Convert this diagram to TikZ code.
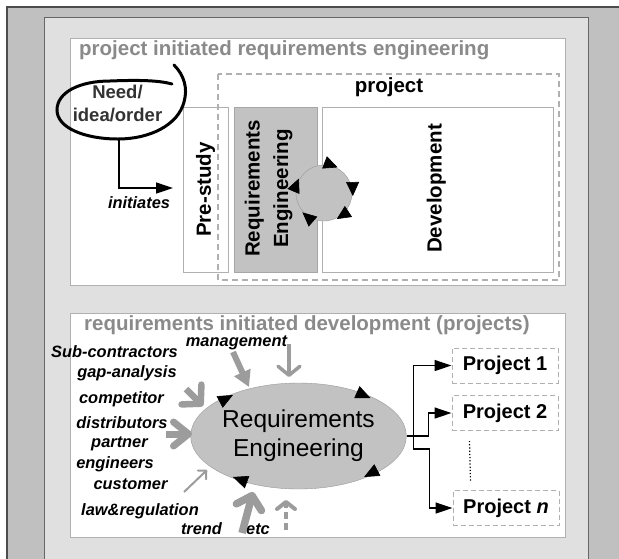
\documentclass[tikz,border=0pt]{standalone}
\usepackage{fontspec}
\setmainfont{Liberation Sans}
\usetikzlibrary{arrows.meta,calc,positioning,shapes.geometric}

\definecolor{framegray}{HTML}{C0C0C0}
\definecolor{panelgray}{HTML}{E0E0E0}
\definecolor{linegray}{HTML}{B0B0B0}
\definecolor{titlegray}{HTML}{8A8A8A}
\definecolor{regray}{HTML}{C2C2C2}
\definecolor{ingray}{HTML}{9C9C9C}

\newcommand{\headfont}{\fontsize{20.5}{24}\selectfont\bfseries}
\newcommand{\srcfont}{\fontsize{16.4}{18}\selectfont\bfseries\itshape}

\begin{document}
\begin{tikzpicture}[x=1pt,y=-1pt,
  box/.style={draw=linegray, line width=1pt},
  stage/.style={box, inner sep=0pt, minimum height=165},
  stagetext/.style={rotate=90, font=\headfont, align=center, inner sep=0pt},
  heading/.style={anchor=west, text=titlegray, font=\headfont, inner sep=0pt},
  source/.style={font=\srcfont, inner sep=0pt},
  projbox/.style={box, dash pattern=on 5pt off 3pt, fill=white, minimum width=106, minimum height=35, inner sep=0pt, font=\fontsize{20}{24}\selectfont\bfseries},
  flow/.style={line width=1.3pt, -{Triangle[length=17pt,width=11pt]}},
  spin/.style={line width=0.6pt, -{Triangle[length=14pt,width=13pt]}},
  inflow/.style={draw=ingray, line width=#1}
]

% Page and frames
\useasboundingbox (0,0) rectangle (619,558);
\clip (0,0) rectangle (619,558);
\fill[white] (0,0) rectangle (619,558);
\draw[fill=framegray, draw=black!70, line width=1.2pt] (7,7) rectangle (640,580);
\draw[fill=panelgray, draw=black!60, line width=1pt] (44,17) rectangle (588,580);

% Upper part: project initiated requirements engineering
\draw[box, fill=white] (70,38) rectangle (565,285);
\node[heading] (toptitle) at (79,50) {project initiated requirements engineering};

% Phases inside the project
\node[stage, fill=white, minimum width=45] (pre) at (205.5,189.5) {};
\node[stage, fill=regray, draw=black!35, minimum width=83] (re) at (275.5,189.5) {};
\node[stage, fill=white, minimum width=230.5] (dev) at (437.75,189.5) {};
\node[stagetext] (pretext) at (pre) {Pre-study};
\node[stagetext, font=\fontsize{20.5}{28.5}\selectfont\bfseries] (retext) at ($(re)+(-7,-1)$) {Requirements\\Engineering};
\node[stagetext] (devtext) at ($(dev)+(-1.5,-1)$) {Development};

% Project border
\draw[draw=linegray, line width=1.3pt, dash pattern=on 6pt off 4pt] (218,74) rectangle (559,280);
\node[font=\headfont, inner sep=0pt] (projlabel) at (389,87) {project};

% Iteration circle
\node[circle, draw=black!40, fill=regray, minimum size=56, inner sep=0pt] (cyc) at (324,193) {};
\foreach \a in {150,62,-6,-64,-138}
  \draw[spin] ({324+29*cos(\a+14)},{193-29*sin(\a+14)}) -- ({324+29*cos(\a)},{193-29*sin(\a)});

% Need / idea / order
\node[font=\fontsize{18.5}{23}\selectfont\bfseries, text=black!80, align=center, inner sep=0pt] (need) at (117.5,103.5) {Need/\\idea/order};
\draw[line width=3pt, line cap=round] (174,65) .. controls (184,75) and (188,88) .. (184,102)
  .. controls (178,125) and (150,139) .. (118,139)
  .. controls (85,139) and (57,128) .. (57,110)
  .. controls (57,92) and (80,81) .. (110,81)
  .. controls (135,80) and (158,80) .. (172,84);
\coordinate (needbot) at (119,139);
\coordinate (initend) at (173,188);
\draw[flow] (needbot) |- (initend);
\node[source] (initlabel) at (139,203) {initiates};

% Lower part: requirements initiated development
\draw[box, fill=white] (70,313) rectangle (565,537);
\node[heading] (bottitle) at (84,325) {requirements initiated development (projects)};

% Requirements engineering
\node[ellipse, draw=black!40, fill=regray, minimum width=203, minimum height=106, inner sep=0pt,
  font=\fontsize{24.5}{29}\selectfont, align=center] (req) at (298.5,436) {Requirements\\Engineering};
\foreach \a in {130,45,-50,-130}
  \draw[spin, -{Triangle[length=15pt,width=13pt]}] ({298.5+102*cos(\a+10)},{436-53.5*sin(\a+10)}) -- ({298.5+102*cos(\a)},{436-53.5*sin(\a)});

% Sources
\node[source] (subcon) at (114.5,352) {Sub-contractors};
\node[source] (mgmt) at (236.5,343) {management};
\node[source] (gap) at (127,373) {gap-analysis};
\node[source] (comp) at (121.5,399) {competitor};
\node[source] (dist) at (122,423) {distributors};
\node[source] (partner) at (119.5,444) {partner};
\node[source] (eng) at (115,464) {engineers};
\node[source] (cust) at (130.5,484) {customer};
\node[source] (law) at (140,511) {law\&regulation};
\node[source] (trend) at (201.5,529) {trend};
\node[source] (etc) at (258,529) {etc};

% Inflows
\draw[inflow=6pt, -{Triangle[length=16pt,width=17pt]}] (233,352) -- (249,387);
\draw[inflow=3.5pt, -{Straight Barb[length=9pt,width=22pt,round]}] (289,344) -- (289,377);
\draw[inflow=6.5pt, -{Straight Barb[length=13pt,width=28pt,round]}] (186,389) -- (203,406);
\draw[inflow=7pt, -{Straight Barb[length=15pt,width=24pt,round]}] (166,434) -- (192,434);
\draw[inflow=2pt, -{Straight Barb[length=6pt,width=12pt,round]}] (184,492) -- (207,470);
\draw[inflow=7.5pt, -{Straight Barb[length=12pt,width=26pt,round]}] (242,533) -- (253,492);
\draw[inflow=4pt, dash pattern=on 7pt off 4pt, -{Straight Barb[length=7pt,width=18pt,round]}] (286,530) -- (286,500);

% Projects
\node[projbox] (p1) at (505,365.5) {Project 1};
\node[projbox] (p2) at (505,413) {Project 2};
\node[projbox] (pn) at (506,508) {Project \textit{n}};
\draw[dotted, line width=1.2pt] ($(p2.south west)+(18,10)$) -- ($(pn.north west)+(18,-8)$);

% Requirements to projects
\coordinate (split) at ($(req.east)+(7,0)$);
\draw[flow] (req.east) -- ++(22,0) |- (p2.west);
\draw[flow] (split) |- (p1.west);
\draw[flow] (split) -- ++(0,13) -- ++(16,0) |- (pn.west);

\end{tikzpicture}
\end{document}
